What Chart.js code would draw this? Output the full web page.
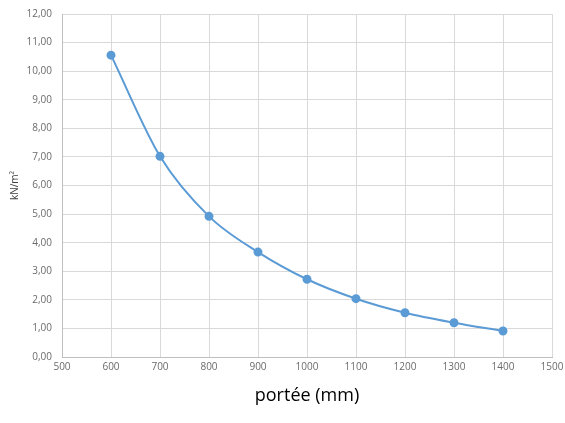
<!DOCTYPE html>
<html lang="fr">
<head>
    <meta charset="UTF-8">
    <title>portée (mm)</title>
    <script src="https://cdn.jsdelivr.net/npm/chart.js"></script>
    <style>
        body { margin: 0; background: #fff; }
        #wrap { width: 565px; height: 423px; }
    </style>
</head>
<body>
    <div id="wrap"><canvas id="chart" width="565" height="423"></canvas></div>

    <script>
        // portée (mm) vs charge (kN/m²)
        var spans = [600, 700, 800, 900, 1000, 1100, 1200, 1300, 1400];
        var loads = [10.56, 7.02, 4.92, 3.67, 2.72, 2.04, 1.55, 1.20, 0.91];
        var xTitle = 'portée (mm)';
        var yTitle = 'kN/m²';

        var points = spans.map(function(s, i) { return { x: s, y: loads[i] }; });
        var tickFont = { family: 'Open Sans', size: 10 };

        new Chart(document.getElementById('chart'), {
            type: 'scatter',
            data: {
                datasets: [{
                    data: points,
                    showLine: true,
                    borderColor: '#5b9bd5',
                    backgroundColor: '#5b9bd5',
                    borderWidth: 2,
                    pointRadius: 3.5,
                    cubicInterpolationMode: 'monotone'
                }]
            },
            options: {
                responsive: false,
                animation: false,
                layout: { padding: { top: 14, right: 13, left: 5, bottom: 12 } },
                plugins: { legend: { display: false }, tooltip: { enabled: false } },
                scales: {
                    x: {
                        type: 'linear',
                        min: 500, max: 1500,
                        ticks: {
                            stepSize: 100, color: '#6b6b6b', font: tickFont, padding: 4,
                            callback: function(v) { return String(v); }
                        },
                        grid: { color: '#d9d9d9', drawTicks: false },
                        border: { color: '#bfbfbf' },
                        title: { display: true, text: xTitle, color: '#000', font: { family: 'Open Sans', size: 18 }, padding: { top: 10 } },
                        afterFit: function(s) { s.height = 54; s.paddingLeft = 0; s.paddingRight = 0; }
                    },
                    y: {
                        min: 0, max: 12,
                        ticks: {
                            stepSize: 1, color: '#6b6b6b', font: tickFont, padding: 10,
                            callback: function(v) { return v.toFixed(2).replace('.', ','); }
                        },
                        grid: { color: '#d9d9d9', drawTicks: false },
                        border: { color: '#bfbfbf' },
                        title: { display: true, text: yTitle, color: '#404040', font: { family: 'Open Sans', size: 10 } },
                        afterFit: function(s) { s.width = 57; s.paddingTop = 0; s.paddingBottom = 0; }
                    }
                }
            }
        });
    </script>
</body>
</html>
